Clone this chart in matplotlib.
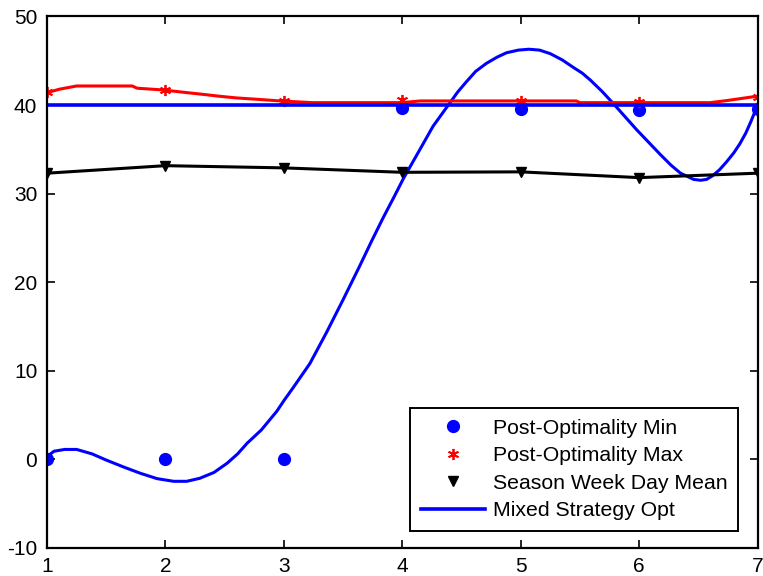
import matplotlib.pyplot as plt

plt.rcParams.update({
    "font.family": ["Liberation Sans", "DejaVu Sans"],
    "font.size": 15,
    "axes.unicode_minus": False,
    "axes.linewidth": 1.6,
    "xtick.direction": "in",
    "ytick.direction": "in",
    "xtick.major.width": 1.2,
    "ytick.major.width": 1.2,
    "xtick.major.size": 6,
    "ytick.major.size": 6,
})

days = [1, 2, 3, 4, 5, 6, 7]
post_min = [0, 0, 0, 39.7, 39.5, 39.4, 39.6]
post_max = [41.5, 41.7, 40.5, 40.6, 40.5, 40.3, 40.9]
season_mean = [32.3, 33.15, 32.9, 32.4, 32.45, 31.8, 32.3]
mixed_opt = [40, 40, 40, 40, 40, 40, 40]

# red envelope through the max values
max_curve_x = [1.0, 1.11, 1.25, 1.5, 1.72, 1.76, 1.98, 2.18, 2.32, 2.45, 2.6,
               2.77, 2.97, 3.24, 3.6, 4.0, 4.15, 4.6, 5.0, 5.47, 5.5, 6.0,
               6.6, 6.74, 6.88, 7.0]
max_curve_y = [41.4, 41.8, 42.15, 42.15, 42.15, 41.9, 41.7, 41.4, 41.2, 41.0, 40.8,
               40.65, 40.46, 40.27, 40.27, 40.27, 40.46, 40.46, 40.46, 40.46, 40.27, 40.27,
               40.27, 40.5, 40.77, 41.0]

# blue curve through the min values
min_curve_x = [1.0, 1.06, 1.15, 1.25, 1.38, 1.5, 1.65, 1.79, 1.93, 2.07, 2.18, 2.29,
               2.41, 2.52, 2.61, 2.69, 2.81, 2.94, 3.0, 3.08, 3.22, 3.36, 3.5, 3.64,
               3.74, 3.84, 3.93, 4.01, 4.15, 4.26, 4.4, 4.47, 4.54, 4.62, 4.71, 4.8,
               4.88, 4.98, 5.07, 5.16, 5.25, 5.35, 5.45, 5.52, 5.59, 5.69, 5.78,
               5.88, 5.98, 6.08, 6.18, 6.27, 6.35, 6.46, 6.52, 6.57, 6.62, 6.68,
               6.74, 6.8, 6.85, 6.9, 6.94, 6.98, 7.0]
min_curve_y = [0.3, 0.9, 1.1, 1.1, 0.6, -0.1, -0.9, -1.6, -2.2, -2.5, -2.5, -2.16,
               -1.5, -0.47, 0.6, 1.8, 3.3, 5.4, 6.6, 8.1, 10.8, 14.3, 18.0, 21.8,
               24.6, 27.3, 29.6, 31.7, 35.0, 37.6, 40.2, 41.5, 42.6, 43.8, 44.7, 45.4,
               45.9, 46.2, 46.3, 46.2, 45.8, 45.1, 44.2, 43.6, 42.8, 41.5, 40.2,
               38.7, 37.2, 35.8, 34.4, 33.2, 32.3, 31.6, 31.5, 31.6, 32.0, 32.7,
               33.6, 34.6, 35.6, 36.8, 38.0, 39.3, 39.8]

fig = plt.figure(figsize=(7.63, 5.76), dpi=100)
ax = fig.add_axes([0.0616, 0.0491, 0.9312, 0.9223])

ax.plot(min_curve_x, min_curve_y, color="blue", linewidth=2.2)
ax.plot(max_curve_x, max_curve_y, color="red", linewidth=2.2)
ax.plot(days, season_mean, color="black", linewidth=2.2)

h_min, = ax.plot(days, post_min, "o", color="blue", markersize=8.5, linestyle="none",
                 label="Post-Optimality Min")
h_max, = ax.plot(days, post_max, marker=(6, 2, 0), color="red", markersize=8,
                 markeredgewidth=1.3, linestyle="none", label="Post-Optimality Max")
h_mean, = ax.plot(days, season_mean, "v", color="black", markersize=7, linestyle="none",
                  label="Season Week Day Mean")
h_opt, = ax.plot(days, mixed_opt, color="blue", linewidth=2.6, label="Mixed Strategy Opt")

ax.set_xlim(1, 7)
ax.set_ylim(-10, 50)
ax.set_xticks(range(1, 8))
ax.set_yticks(range(-10, 51, 10))
ax.tick_params(top=True, right=True, labelsize=15, pad=7)
for s in ax.spines.values():
    s.set_clip_on(False)

leg = ax.legend(handles=[h_min, h_max, h_mean, h_opt], loc="lower right",
                bbox_to_anchor=(0.9726, 0.032), fontsize=15.3, fancybox=False,
                framealpha=1, edgecolor="black", borderpad=0.5,
                handlelength=3.0, handletextpad=0.38, labelspacing=0.4,
                borderaxespad=0)
leg.get_frame().set_linewidth(1.4)

fig.savefig("out.png", dpi=100)
